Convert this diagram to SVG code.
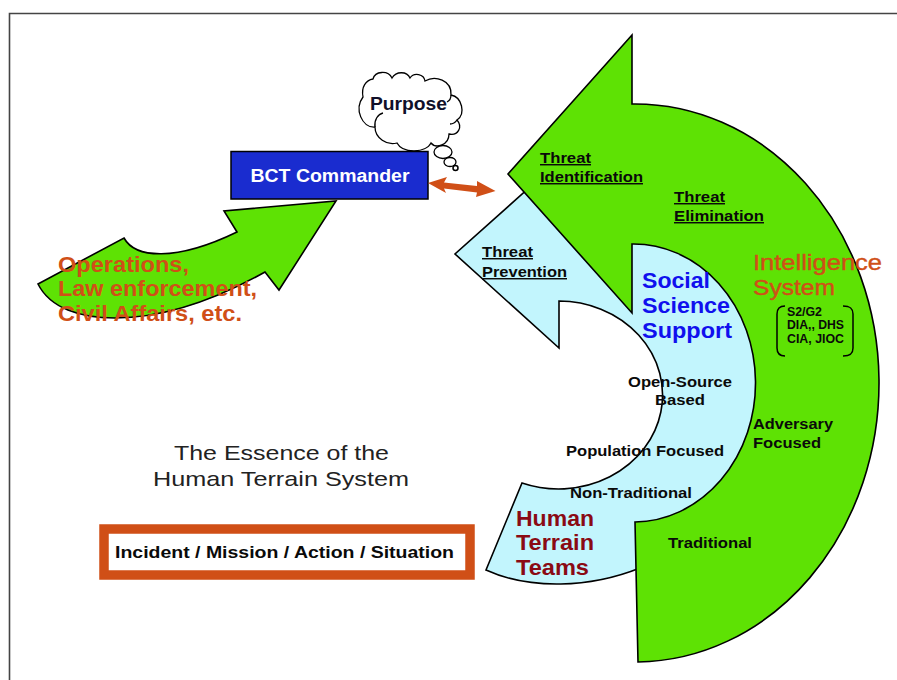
<svg xmlns="http://www.w3.org/2000/svg" width="897" height="680" viewBox="0 0 897 680">
<style>
text{font-family:"Liberation Sans",Arial,sans-serif;font-weight:bold;fill:#0a0a0a}
.s{stroke:#000;stroke-width:1.6;stroke-linejoin:miter}
.g{fill:#5ee204}
.b{fill:#c2f5fd}
.o{fill:#d04f17}
.u{text-decoration:underline;font-size:14.5px}
.m{font-size:14.5px}
.h{font-size:21.5px}
.r{font-weight:normal;font-size:21px;fill:#222}
.t{font-size:12px}
</style>
<rect width="897" height="680" fill="#fff"/>
<path d="M9.5,680V13.5H897" fill="none" stroke="#444" stroke-width="1.6"/>
<g id="threat-prevention-arrow">
<path class="s b" d="M486,570L522,483A104,94 0 1 0 559,301V348L455,254L540,178L640,170L780,300V450L640,568C590,588 530,590 486,570Z"/>
</g>
<g id="intelligence-arrow">
<path class="s g" d="M632,35L508,174L632,313V244A122,139 0 0 1 635,522L638,662A244,279 0 0 0 632,104Z"/>
</g>
<g id="operations-arrow">
<path class="s g" d="M38,284L124,238C135,258 175,262 237,232L224,211L336,201L279,290L265,272C215,300 165,318 115,318C80,318 50,308 38,284Z"/>
</g>
<g id="purpose-cloud">
<path d="M363,97C361,87 366,80 373,79C375,71 388,70 392,78C396,71 407,71 410,78C414,72 424,74 425,81C435,75 452,80 451,95C462,97 466,114 457,120C463,127 458,136 449,134C449,145 436,149 431,143C426,153 403,154 397,143C387,146 375,138 375,127C362,128 354,109 363,97Z" fill="#fff" stroke="#000" stroke-width="1.3"/>
<path d="M375,127C374,120 378,114 383,113M451,95C451,99 449,101 447,102M457,120C455,123 453,124 450,124" fill="none" stroke="#000" stroke-width="1.3"/>
<ellipse cx="443" cy="152" rx="9" ry="6.5" fill="#fff" stroke="#000" stroke-width="1.3"/>
<ellipse cx="450" cy="162" rx="6" ry="4.5" fill="#fff" stroke="#000" stroke-width="1.3"/>
<circle cx="455.500" cy="168" r="2.500" fill="#fff" stroke="#000" stroke-width="1.5"/>
<text x="370" y="110" font-size="18" textLength="77" lengthAdjust="spacingAndGlyphs" style="fill:#10102a">Purpose</text>
</g>
<g id="bct-commander">
<rect x="231" y="151.500" width="197" height="47.500" fill="#1a2ccf" stroke="#000" stroke-width="1.5"/>
<text x="250.500" y="182" font-size="18" textLength="159" lengthAdjust="spacingAndGlyphs" style="fill:#fff">BCT Commander</text>
</g>
<g id="connectors">
<polygon class="o" points="428,183 447,177 444,182.500 477,186 477,181 495.500,191 476,197 477,192.500 444,188.500 446,193"/>
</g>
<g id="operations-label">
<text class="h" x="58" y="272" textLength="131" lengthAdjust="spacingAndGlyphs" style="fill:#d04f17">Operations,</text>
<text class="h" x="58" y="296" textLength="199" lengthAdjust="spacingAndGlyphs" style="fill:#d04f17">Law enforcement,</text>
<text class="h" x="58" y="321" textLength="184" lengthAdjust="spacingAndGlyphs" style="fill:#d04f17">Civil Affairs, etc.</text>
</g>
<g id="title">
<text class="r" x="174" y="460" textLength="215" lengthAdjust="spacingAndGlyphs">The Essence of the</text>
<text class="r" x="153" y="486" textLength="256" lengthAdjust="spacingAndGlyphs">Human Terrain System</text>
</g>
<g id="incident-box">
<rect x="104" y="529" width="366" height="46" fill="#fff" stroke="#d04f17" stroke-width="9.500"/>
<text x="115" y="558" font-size="16.500" textLength="339" lengthAdjust="spacingAndGlyphs">Incident / Mission / Action / Situation</text>
</g>
<g id="threat-labels">
<text class="u" x="540" y="163" textLength="51" lengthAdjust="spacingAndGlyphs">Threat</text>
<text class="u" x="540" y="182" textLength="103" lengthAdjust="spacingAndGlyphs">Identification</text>
<text class="u" x="674" y="202" textLength="51" lengthAdjust="spacingAndGlyphs">Threat</text>
<text class="u" x="674" y="221" textLength="90" lengthAdjust="spacingAndGlyphs">Elimination</text>
<text class="u" x="482" y="257" textLength="51" lengthAdjust="spacingAndGlyphs">Threat</text>
<text class="u" x="482" y="277" textLength="85" lengthAdjust="spacingAndGlyphs">Prevention</text>
</g>
<g id="social-science-support">
<text class="h" x="642" y="288" textLength="68" lengthAdjust="spacingAndGlyphs" style="fill:#1010ee">Social</text>
<text class="h" x="642" y="313" textLength="88" lengthAdjust="spacingAndGlyphs" style="fill:#1010ee">Science</text>
<text class="h" x="642" y="338" textLength="90" lengthAdjust="spacingAndGlyphs" style="fill:#1010ee">Support</text>
</g>
<g id="intelligence-system">
<text class="h" x="753" y="270" textLength="129" lengthAdjust="spacingAndGlyphs" style="fill:#d04f17;stroke:#d04f17;stroke-width:.4;font-weight:normal">Intelligence</text>
<text class="h" x="753" y="295" textLength="82" lengthAdjust="spacingAndGlyphs" style="fill:#d04f17;stroke:#d04f17;stroke-width:.4;font-weight:normal">System</text>
<path d="M785,306C779,306 777,309 777,314V348C777,353 779,356 785,356M843,306C851,306 853,309 853,314V348C853,353 851,356 843,356" fill="none" stroke="#000" stroke-width="1.500"/>
<text class="t" x="787" y="316" textLength="35" lengthAdjust="spacingAndGlyphs">S2/G2</text>
<text class="t" x="787" y="329" textLength="57" lengthAdjust="spacingAndGlyphs">DIA,, DHS</text>
<text class="t" x="787" y="343" textLength="57" lengthAdjust="spacingAndGlyphs">CIA, JIOC</text>
</g>
<g id="band-labels">
<text class="m" x="628" y="387" textLength="104" lengthAdjust="spacingAndGlyphs">Open-Source</text>
<text class="m" x="655" y="405" textLength="50" lengthAdjust="spacingAndGlyphs">Based</text>
<text class="m" x="566" y="456" textLength="158" lengthAdjust="spacingAndGlyphs">Population Focused</text>
<text class="m" x="570" y="498" textLength="122" lengthAdjust="spacingAndGlyphs">Non-Traditional</text>
<text class="m" x="753" y="429" textLength="80" lengthAdjust="spacingAndGlyphs">Adversary</text>
<text class="m" x="753" y="448" textLength="68" lengthAdjust="spacingAndGlyphs">Focused</text>
<text class="m" x="668" y="548" textLength="84" lengthAdjust="spacingAndGlyphs">Traditional</text>
</g>
<g id="human-terrain-teams">
<text class="h" x="516" y="526" textLength="78" lengthAdjust="spacingAndGlyphs" style="fill:#8a0a14">Human</text>
<text class="h" x="516" y="550" textLength="78" lengthAdjust="spacingAndGlyphs" style="fill:#8a0a14">Terrain</text>
<text class="h" x="516" y="575" textLength="73" lengthAdjust="spacingAndGlyphs" style="fill:#8a0a14">Teams</text>
</g>
</svg>
